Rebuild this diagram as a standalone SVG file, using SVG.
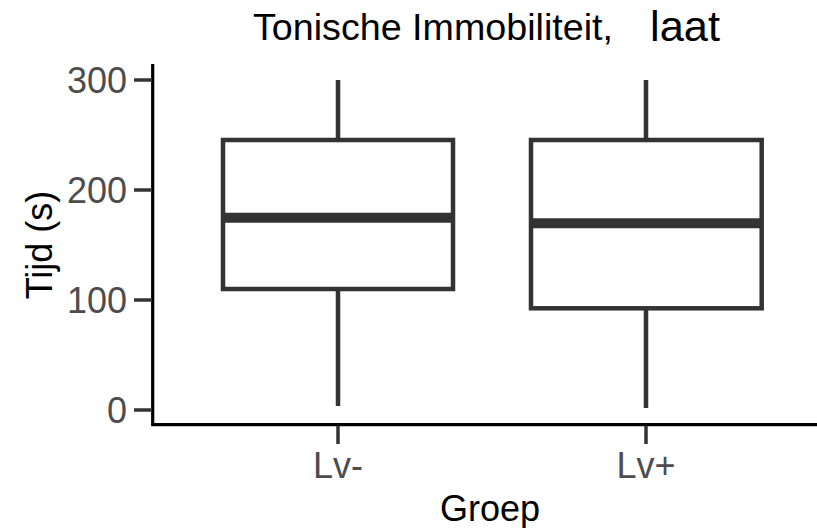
<svg xmlns="http://www.w3.org/2000/svg" width="817" height="528" viewBox="0 0 817 528">
<style>
  .t { font-family: "Liberation Sans", Arial, sans-serif; font-size: 36px; }
  .tick { fill: #4d4d4d; }
  .ttl { fill: #000000; }
  .box { fill: #ffffff; stroke: #333333; stroke-width: 4.5; }
  .med { stroke: #333333; stroke-width: 10; }
  .wh { stroke: #333333; stroke-width: 4.5; }
  .axis { stroke: #000000; stroke-width: 3.2; fill: none; }
  .tk { stroke: #333333; stroke-width: 3.5; }
</style>
<rect width="817" height="528" fill="#ffffff"/>
<g id="title">
  <text class="t ttl" x="253" y="40" textLength="360" lengthAdjust="spacingAndGlyphs">Tonische Immobiliteit,</text>
  <text x="650" y="41" font-family="'Liberation Sans', Arial, sans-serif" font-size="42" fill="#000000" textLength="70" lengthAdjust="spacingAndGlyphs">laat</text>
</g>
<g id="axes">
  <path class="axis" d="M152.7 64 V424.7 H817"/>
  <line class="tk" x1="134" y1="80" x2="152" y2="80"/>
  <line class="tk" x1="134" y1="190" x2="152" y2="190"/>
  <line class="tk" x1="134" y1="300" x2="152" y2="300"/>
  <line class="tk" x1="134" y1="410" x2="152" y2="410"/>
  <line class="tk" x1="338" y1="426" x2="338" y2="444"/>
  <line class="tk" x1="646" y1="426" x2="646" y2="444"/>
  <text class="t tick" x="127" y="93" text-anchor="end">300</text>
  <text class="t tick" x="127" y="203" text-anchor="end">200</text>
  <text class="t tick" x="127" y="313" text-anchor="end">100</text>
  <text class="t tick" x="127" y="423" text-anchor="end">0</text>
  <text class="t tick" x="338" y="478" text-anchor="middle">Lv-</text>
  <text class="t tick" x="646" y="478" text-anchor="middle">Lv+</text>
  <text class="t ttl" x="490" y="521" text-anchor="middle">Groep</text>
  <text class="t ttl" transform="translate(52 245) rotate(-90)" text-anchor="middle">Tijd (s)</text>
</g>
<g id="box-lv-minus">
  <line class="wh" x1="338" y1="80" x2="338" y2="140"/>
  <line class="wh" x1="338" y1="289" x2="338" y2="406"/>
  <rect class="box" x="223" y="140" width="230" height="149"/>
  <line class="med" x1="223" y1="217.7" x2="453" y2="217.7"/>
</g>
<g id="box-lv-plus">
  <line class="wh" x1="646" y1="80" x2="646" y2="140"/>
  <line class="wh" x1="646" y1="308.3" x2="646" y2="408"/>
  <rect class="box" x="531" y="140" width="230.7" height="168.3"/>
  <line class="med" x1="531" y1="223.3" x2="761.7" y2="223.3"/>
</g>
</svg>
